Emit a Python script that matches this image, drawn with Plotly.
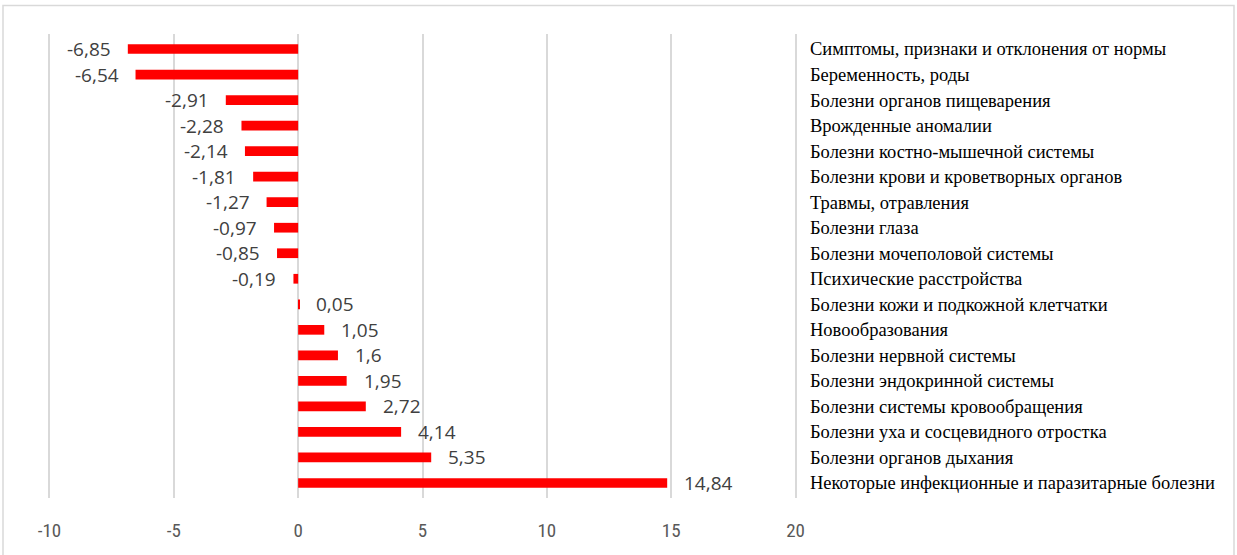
import plotly.graph_objects as go

categories = [
    "Симптомы, признаки и отклонения от нормы",
    "Беременность, роды",
    "Болезни органов пищеварения",
    "Врожденные аномалии",
    "Болезни костно-мышечной системы",
    "Болезни крови и кроветворных органов",
    "Травмы, отравления",
    "Болезни глаза",
    "Болезни мочеполовой системы",
    "Психические расстройства",
    "Болезни кожи и подкожной клетчатки",
    "Новообразования",
    "Болезни нервной системы",
    "Болезни эндокринной системы",
    "Болезни системы кровообращения",
    "Болезни уха и сосцевидного отростка",
    "Болезни органов дыхания",
    "Некоторые инфекционные и паразитарные болезни",
]
values = [-6.85, -6.54, -2.91, -2.28, -2.14, -1.81, -1.27, -0.97, -0.85, -0.19,
          0.05, 1.05, 1.6, 1.95, 2.72, 4.14, 5.35, 14.84]
value_labels = ["-6,85", "-6,54", "-2,91", "-2,28", "-2,14", "-1,81", "-1,27", "-0,97",
                "-0,85", "-0,19", "0,05", "1,05", "1,6", "1,95", "2,72", "4,14", "5,35", "14,84"]
x_ticks = [-10, -5, 0, 5, 10, 15, 20]

fig = go.Figure()
fig.add_trace(go.Bar(
    x=values, y=categories, orientation="h",
    marker=dict(color="#FF0000", line=dict(width=0)),
    width=0.38, showlegend=False, hoverinfo="x+y",
))

for v, c, t in zip(values, categories, value_labels):
    fig.add_annotation(
        x=v, y=c, text=t, showarrow=False,
        xanchor="right" if v < 0 else "left",
        xshift=-15 if v < 0 else 15, yshift=0,
        font=dict(family="Open Sans, Liberation Sans, sans-serif", size=19, color="#404040"),
    )

fig.update_xaxes(
    range=[-10.06, 20.06], tickvals=x_ticks, ticktext=[str(t) for t in x_ticks],
    showgrid=True, gridcolor="#d9d9d9", gridwidth=2,
    zeroline=False, showline=False, ticks="", automargin=False,
    tickfont=dict(family="Liberation Sans Narrow, Roboto Condensed, Roboto, sans-serif", size=19, color="#595959"),
    ticklabelstandoff=19,
)
fig.update_yaxes(
    categoryorder="array", categoryarray=categories, autorange="reversed",
    side="right", showgrid=False, zeroline=False, showline=False, ticks="",
    automargin=False,
    tickfont=dict(family="Liberation Serif, Times New Roman, serif", size=18.5, color="#000000"),
    ticklabelstandoff=12,
)

PL, PR, PT, PB = 48, 797, 34, 498
fig.add_shape(type="rect", xref="paper", yref="paper",
              x0=(3 - PL) / (PR - PL), x1=(1234 - PL) / (PR - PL),
              y0=-0.2, y1=(PB - 5.5) / (PB - PT),
              line=dict(color="#d9d9d9", width=1.5), fillcolor="rgba(0,0,0,0)", layer="below")

fig.update_layout(
    width=1237, height=555,
    margin=dict(l=PL, r=1237 - PR, t=PT, b=555 - PB, autoexpand=False),
    paper_bgcolor="white", plot_bgcolor="white",
    bargap=0.6,
)

fig.write_html(
    "out.html",
    config={"displayModeBar": False},
    post_script="document.body.style.margin='0';document.body.style.overflow='hidden';",
)
